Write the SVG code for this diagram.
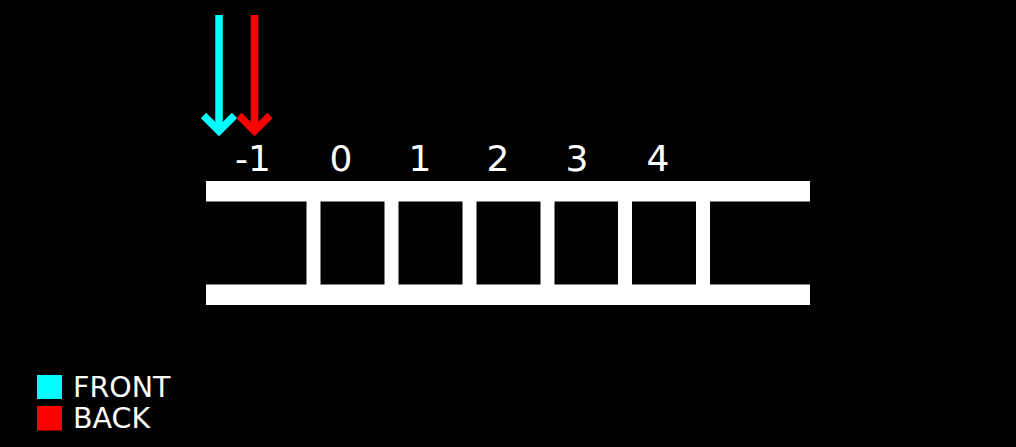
<svg xmlns="http://www.w3.org/2000/svg" width="1016" height="447" viewBox="0 0 1016 447">
<style>
.bg{fill:#000}
.w{fill:#fff}
.lbl{font-family:"DejaVu Sans","Verdana",sans-serif;fill:#fff;font-size:36px;text-anchor:middle}
.leg{font-family:"DejaVu Sans","Verdana",sans-serif;fill:#fff;font-size:28.5px}
.arr{fill:none;stroke-width:7.5;stroke-linecap:butt;stroke-linejoin:miter}
</style>
<rect class="bg" x="0" y="0" width="1016" height="447"/>
<g id="structure">
<rect class="w" x="206" y="181" width="604" height="20.5"/>
<rect class="w" x="206" y="284.5" width="604" height="20.5"/>
<rect class="w" x="306.5" y="200" width="14" height="86"/>
<rect class="w" x="384.5" y="200" width="14" height="86"/>
<rect class="w" x="462.5" y="200" width="14" height="86"/>
<rect class="w" x="540.5" y="200" width="14" height="86"/>
<rect class="w" x="618" y="200" width="14" height="86"/>
<rect class="w" x="696" y="200" width="14" height="86"/>
</g>
<g id="labels">
<text class="lbl" x="253" y="171">-1</text>
<text class="lbl" x="341" y="171">0</text>
<text class="lbl" x="420" y="171">1</text>
<text class="lbl" x="498" y="171">2</text>
<text class="lbl" x="577" y="171">3</text>
<text class="lbl" x="658" y="171">4</text>
</g>
<g id="connectors">
<g id="front-arrow" stroke="#00ffff" class="arr">
<line x1="219" y1="15" x2="219" y2="131"/>
<polyline points="203.5,115.5 219,131 234.5,115.5"/>
</g>
<g id="back-arrow" stroke="#ff0000" class="arr">
<line x1="254.5" y1="15" x2="254.5" y2="131"/>
<polyline points="239,115.5 254.5,131 270,115.5"/>
</g>
</g>
<g id="legend">
<rect x="37" y="375" width="25" height="24" fill="#00ffff"/>
<rect x="37" y="406" width="25" height="24.5" fill="#ff0000"/>
<text class="leg" x="73" y="397">FRONT</text>
<text class="leg" x="73" y="428">BACK</text>
</g>
</svg>
